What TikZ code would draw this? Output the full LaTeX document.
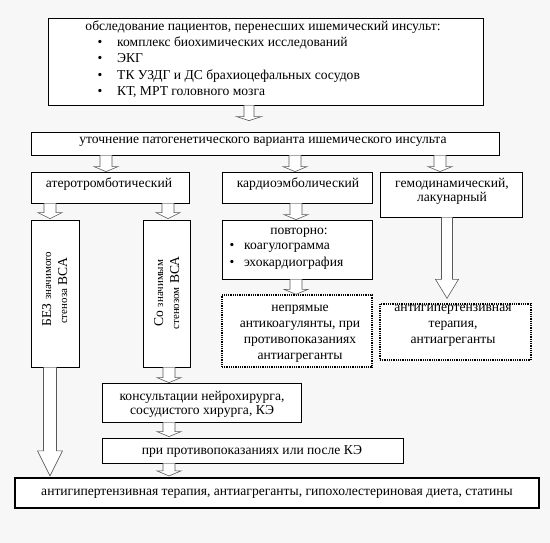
\documentclass[tikz,border=0pt]{standalone}
\usepackage{fontspec}
\setmainfont{Liberation Serif}[Scale=1.045]
\usetikzlibrary{calc}
\tikzset{
  box/.style={draw=black, line width=0.8pt, fill=white, inner sep=0pt},
  dotbox/.style={box, densely dotted, line width=1.3pt},
  finbox/.style={box, line width=2.2pt},
  txt/.style={anchor=base, inner sep=0pt, font=\fontsize{13}{16}\selectfont},
  ltxt/.style={txt, anchor=base west},
  rtxt/.style={txt, rotate=90},
  arrowst/.style={draw=black!65, line width=0.6pt, fill=white, line join=miter}
}
\newcommand\bx[6]{\node[#6, minimum width={(#4-#2)*1pt}, minimum height={(#5-#3)*1pt}] (#1) at ({(#2+#4)/2},{(#3+#5)/2}) {};}
% #1 x, #2 from node, #3 to node, #4 head length, #5 tip gap, #6 shaft half width, #7 head half width
\newcommand\barrow[7]{\draw[arrowst] let \p1=(#2.south), \p2=(#3.north) in
  ({#1pt-#6pt},\y1) -- ({#1pt-#6pt},{\y2+#5pt+#4pt}) -- ({#1pt-#7pt},{\y2+#5pt+#4pt}) --
  ({#1pt},{\y2+#5pt}) -- ({#1pt+#7pt},{\y2+#5pt+#4pt}) -- ({#1pt+#6pt},{\y2+#5pt+#4pt}) --
  ({#1pt+#6pt},\y1);}
\begin{document}
\begin{tikzpicture}[x=1pt,y=-1pt]
\useasboundingbox (0,0) rectangle (550,543);
\fill[black!3] (0,0) rectangle (550,543);
% boxes
\bx{b1}{48}{18}{483}{105}{box}
\bx{b2}{31}{132}{499}{155}{box}
\bx{ath}{31}{172}{189}{203}{box}
\bx{card}{222}{172}{372}{203}{box}
\bx{hemo}{380}{172}{522}{217}{box}
\bx{bez}{31}{220}{79}{367}{box}
\bx{so}{143}{220}{190}{367}{box}
\bx{povt}{222}{220}{372}{279}{box}
\bx{nepr}{222}{295}{372}{367}{dotbox}
\bx{antih}{380}{304}{531}{360}{dotbox}
\bx{kons}{102}{383}{301}{422}{box}
\bx{pri}{102}{438}{403}{463}{box}
\bx{fin}{15}{478}{539}{508}{finbox}
% texts
\node[txt] (t1) at (263,31) {обследование пациентов, перенесших ишемический инсульт:};
\node[txt] (t1a) at (100,47) {•};
\node[ltxt] (t1b) at (117,47) {комплекс биохимических исследований};
\node[txt] (t1c) at (100,63) {•};
\node[ltxt] (t1d) at (117,63) {ЭКГ};
\node[txt] (t1e) at (100,80) {•};
\node[ltxt] (t1f) at (117,80) {ТК УЗДГ и ДС брахиоцефальных сосудов};
\node[txt] (t1g) at (100,96) {•};
\node[ltxt] (t1h) at (117,96) {КТ, МРТ головного мозга};
\node[txt] (t2) at (263,143) {уточнение патогенетического варианта ишемического инсульта};
\node[txt] (t3) at (109,187) {атеротромботический};
\node[txt] (t4) at (298,187) {кардиоэмболический};
\node[txt] (t5) at (452,187) {гемодинамический,};
\node[txt] (t5b) at (452,202) {лакунарный};
\node[rtxt] (t6) at (51,289) {БЕЗ {\fontsize{10.5}{13}\selectfont значимого}};
\node[rtxt] (t6b) at (67,291) {{\fontsize{10.5}{13}\selectfont стеноза} ВСА};
\node[rtxt] (t7) at (163,293) {Со {\fontsize{10.5}{13}\selectfont значимым}};
\node[rtxt] (t7b) at (179,293) {{\fontsize{10.5}{13}\selectfont стенозом} ВСА};
\node[txt] (t8) at (299,235) {повторно:};
\node[txt] (t8a) at (232,250) {•};
\node[ltxt] (t8b) at (244,250) {коагулограмма};
\node[txt] (t8c) at (232,266) {•};
\node[ltxt] (t8d) at (244,266) {эхокардиография};
\node[txt] (t9) at (300,311) {непрямые};
\node[txt] (t9b) at (300,327) {антикоагулянты, при};
\node[txt] (t9c) at (300,343) {противопоказаниях};
\node[txt] (t9d) at (300,359) {антиагреганты};
\node[txt] (t10) at (453,311) {антигипертензивная};
\node[txt] (t10b) at (453,327) {терапия,};
\node[txt] (t10c) at (453,343) {антиагреганты};
\node[txt] (t11) at (202,400) {консультации нейрохирурга,};
\node[txt] (t11b) at (202,414) {сосудистого хирурга, КЭ};
\node[txt] (t12) at (252,454) {при противопоказаниях или после КЭ};
\node[txt] (t13) at (277,495) {антигипертензивная терапия, антиагреганты, гипохолестериновая диета, статины};
% arrows
\barrow{249}{b1}{b2}{4}{11}{5}{12.5}
\barrow{106}{b2}{ath}{5}{0}{6}{12}
\barrow{295}{b2}{card}{5}{0}{6}{12}
\barrow{440}{b2}{hemo}{5}{0}{6}{12}
\barrow{50}{ath}{bez}{6}{1}{6}{12}
\barrow{168}{ath}{so}{6}{1}{6}{12}
\barrow{296}{card}{povt}{5}{0}{6}{12}
\barrow{296}{povt}{nepr}{5}{0}{6}{12}
\barrow{447}{hemo}{antih}{19}{5}{5.5}{11.5}
\barrow{50}{bez}{fin}{25}{1}{6.5}{12.5}
\barrow{169}{so}{kons}{5}{0}{6}{12}
\barrow{169}{kons}{pri}{5}{1}{6}{12}
\barrow{169}{pri}{fin}{5}{1}{6}{12}
\end{tikzpicture}
\end{document}
